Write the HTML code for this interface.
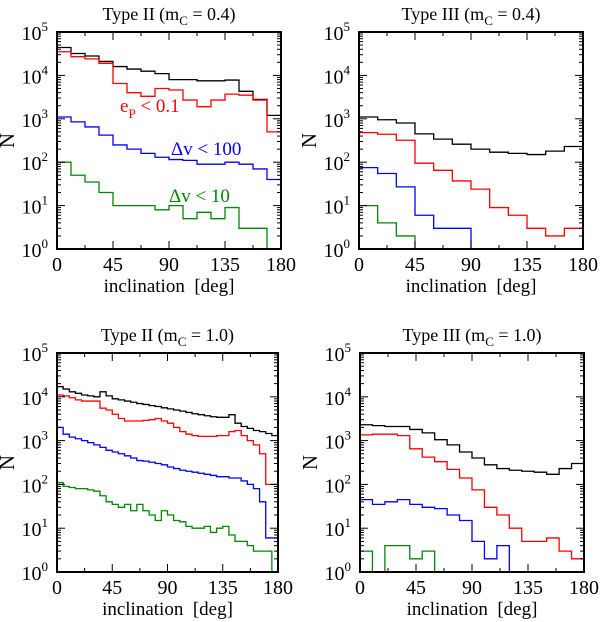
<!DOCTYPE html>
<html><head><meta charset="utf-8">
<style>
html,body{margin:0;padding:0;background:#fff;}
svg{display:block;font-family:"Liberation Serif",serif;}
text{white-space:pre;}
</style></head>
<body>
<svg id="fig" width="600" height="622" viewBox="0 0 600 622" xmlns="http://www.w3.org/2000/svg"></svg>
<script>
// ---- data ----
const tlBlack=[44000,32000,28000,21000,16000,14000,12500,11000,8000,8000,7500,7500,7800,4300,2800,1200];
const tlRed=[35000,27000,24000,19000,6500,4000,3300,5000,4600,2700,1900,2700,3700,3500,2700,500];
const tlBlue=[1100,850,650,420,250,200,160,130,115,110,90,90,100,90,70,40];
const tlGreen=[100,50,35,20,10,10,10,8,10,5,7,5,9,3,3,0];

const trBlack=[1100,950,800,450,340,260,200,170,160,150,180,230];
const trRed=[480,440,320,95,65,37,24,9,6,3,2,3];
const trBlue=[75,55,27,6,3,3,0,0,0,0,0,0];
const trGreen=[10,4,2,0,0,0,0,0,0,0,0,0];

const blBlack=[17000,15000,13000,12000,11000,10500,10000,13000,10500,9000,8500,8000,7500,7000,6700,6300,6000,5600,5300,5000,4700,4400,4100,3900,3700,3500,3400,3400,3900,2500,2100,1900,1700,1600,1450,1300];
const blRed=[11000,10500,9500,8500,8000,8000,8000,5500,5000,4000,3200,2800,2800,2800,2900,3000,3200,2800,2500,2000,1600,1400,1300,1250,1250,1250,1300,1300,1600,1700,1300,1000,800,500,100,100];
const blBlue=[2000,1400,1200,1100,1000,900,800,700,600,550,500,450,400,350,340,320,300,280,250,230,210,200,190,180,170,160,150,150,140,140,120,100,80,40,6,6];
const blGreen=[110,90,85,80,80,75,70,55,40,35,30,35,25,35,25,20,15,25,20,15,14,11,10,10,11,8,10,11,7,5,5,4,3,3,3,0];

const brBlack=[2300,2200,2100,2100,1800,1500,1050,800,550,400,280,230,210,200,190,170,230,300];
const brRed=[1350,1400,1400,1300,650,420,330,220,140,75,30,20,10,5,5,6,3,2];
const brBlue=[45,35,40,45,35,30,28,20,15,5,2,4,0,0,0,0,0,0];
const brGreen=[3,0,4,4,2,3,0,0,0,0,0,0,0,0,0,0,0,0];

const xTicks=[0,45,90,135,180];
const yDecades=[0,1,2,3,4,5];

const NS="http://www.w3.org/2000/svg";
const svg=document.getElementById('fig');
function el(tag,attrs,parent){const e=document.createElementNS(NS,tag);for(const k in attrs)e.setAttribute(k,attrs[k]);(parent||svg).appendChild(e);return e;}

const panels=[
 {id:'tl',x0:57,x1:281,y0:32,y1:249,title:'Type II',m:'0.4',series:[tlBlack,tlRed,tlBlue,tlGreen]},
 {id:'tr',x0:359,x1:583,y0:32,y1:249,title:'Type III',m:'0.4',series:[trBlack,trRed,trBlue,trGreen]},
 {id:'bl',x0:57,x1:278,y0:353,y1:572,title:'Type II',m:'1.0',series:[blBlack,blRed,blBlue,blGreen]},
 {id:'br',x0:360,x1:584,y0:353,y1:572,title:'Type III',m:'1.0',series:[brBlack,brRed,brBlue,brGreen]}
];
const colors=['#000000','#ff0000','#0000ff','#008800'];
const names=['all','ep-lt-0.1','dv-lt-100','dv-lt-10'];

panels.forEach(p=>{
  const g=el('g',{});
  
  
  const xs=v=>p.x0+(v/180)*(p.x1-p.x0);
  const ys=v=>p.y1-(Math.log10(v)/5)*(p.y1-p.y0);
  const cid='clip-'+p.id;
  const cp=el('clipPath',{id:cid},g);
  el('rect',{x:p.x0,y:p.y0,width:p.x1-p.x0,height:p.y1-p.y0},cp);
  p.series.forEach((arr,si)=>{
    const n=arr.length, w=180/n;
    const yv=v=>v>0?ys(v):p.y1+20;
    let d='M'+xs(0)+','+yv(arr[0]);
    for(let i=0;i<n;i++){
      d+=' L'+xs((i+1)*w)+','+yv(arr[i]);
      if(i<n-1)d+=' L'+xs((i+1)*w)+','+yv(arr[i+1]);
      else d+=' L'+xs(180)+','+(p.y1+20);
    }
    const path=el('path',{d:d,fill:'none',stroke:colors[si],'stroke-width':1.3,'clip-path':'url(#'+cid+')'},g);
    
    
  });
  const fr=el('rect',{x:p.x0,y:p.y0,width:p.x1-p.x0,height:p.y1-p.y0,fill:'none',stroke:'#000','stroke-width':2},g);
  
  
  for(let v=0;v<=180;v+=22.5){
    const major=(v%45===0), L=major?8:4, X=xs(v);
    el('line',{x1:X,x2:X,y1:p.y1,y2:p.y1-L,stroke:'#000','stroke-width':1},g);
    el('line',{x1:X,x2:X,y1:p.y0,y2:p.y0+L,stroke:'#000','stroke-width':1},g);
  }
  xTicks.forEach(v=>{
    const t=el('text',{x:xs(v),y:p.y1+22,'font-size':20,'text-anchor':'middle'},g);
    t.textContent=v;
    
    
  });
  yDecades.forEach(dcd=>{
    const Y=ys(Math.pow(10,dcd));
    el('line',{x1:p.x0,x2:p.x0+8,y1:Y,y2:Y,stroke:'#000'},g);
    el('line',{x1:p.x1,x2:p.x1-8,y1:Y,y2:Y,stroke:'#000'},g);
    if(dcd<5)for(let k=2;k<=9;k++){
      const Ym=ys(k*Math.pow(10,dcd));
      el('line',{x1:p.x0,x2:p.x0+4,y1:Ym,y2:Ym,stroke:'#000'},g);
      el('line',{x1:p.x1,x2:p.x1-4,y1:Ym,y2:Ym,stroke:'#000'},g);
    }
    const t=el('text',{x:p.x0-9,y:Y+8,'font-size':20,'text-anchor':'end'},g);
    t.innerHTML='10<tspan dy="-9" font-size="13">'+dcd+'</tspan>';
    
    
  });
  const xl=el('text',{x:(p.x0+p.x1)/2,y:p.y1+43,'font-size':19,'text-anchor':'middle'},g);
  xl.textContent='inclination  [deg]';
  
  
  const yl=el('text',{x:0,y:0,'font-size':21,'text-anchor':'middle',transform:'translate('+(p.x0-43)+','+((p.y0+p.y1)/2)+') rotate(-90)'},g);
  yl.textContent='N';
  
  
  const tt=el('text',{x:(p.x0+p.x1)/2,y:p.y0-12,'font-size':18,'text-anchor':'middle'},g);
  tt.innerHTML=p.title+' (m<tspan dy="5" font-size="13">C</tspan><tspan dy="-5"> = '+p.m+')</tspan>';
  
  
});

const a1=el('text',{x:120,y:112,'font-size':19,fill:'#ff0000'});
a1.innerHTML='e<tspan dy="6" font-size="13">P</tspan><tspan dy="-6"> &lt; 0.1</tspan>';


const a2=el('text',{x:171,y:155,'font-size':19,fill:'#0000ff'});
a2.textContent='Δv < 100';


const a3=el('text',{x:169,y:202,'font-size':19,fill:'#008800'});
a3.textContent='Δv < 10';


</script>
</body></html>
